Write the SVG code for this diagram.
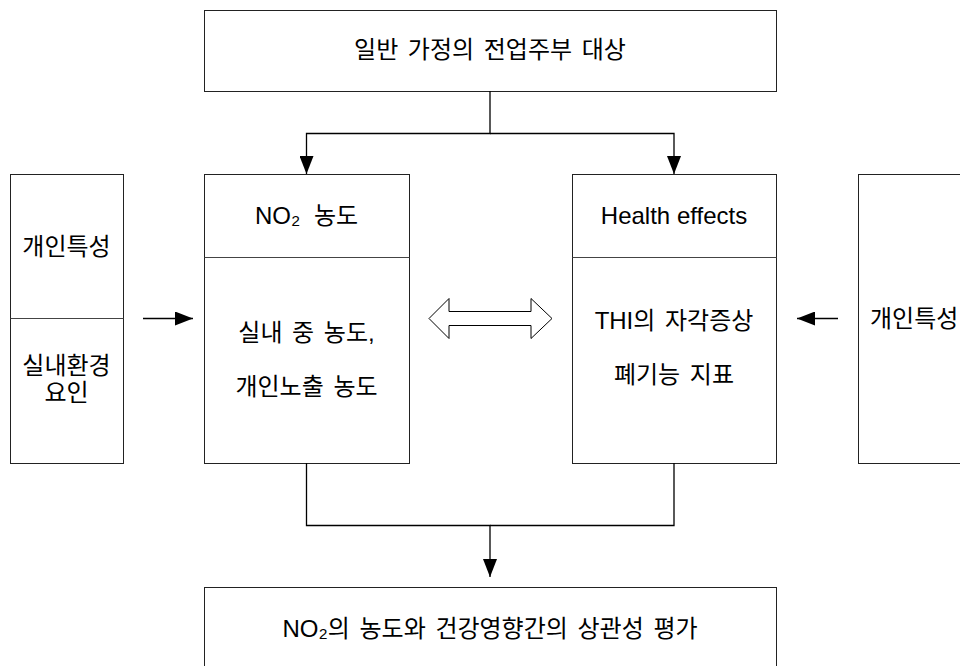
<svg xmlns="http://www.w3.org/2000/svg" width="960" height="666" viewBox="0 0 960 666">
<style>
  .box { fill: #ffffff; stroke: #222222; stroke-width: 1; }
  .div { stroke: #444444; stroke-width: 1; fill: none; }
  .t { font-family: "Liberation Sans", "Noto Sans CJK KR", sans-serif; font-size: 24px; fill: #000000; word-spacing: 3px; }
  .c { text-anchor: middle; }
  .ln { stroke: #000000; stroke-width: 1.3; fill: none; }
  .dbl { fill: #ffffff; stroke: #000000; stroke-width: 1; }
</style>
<defs>
  <marker id="ah" markerWidth="18" markerHeight="14" refX="18" refY="7" orient="auto" markerUnits="userSpaceOnUse">
    <path d="M0,0 L18,7 L0,14 Z" fill="#000000"/>
  </marker>
</defs>
<rect width="960" height="666" fill="#ffffff"/>

<g id="top">
  <rect class="box" x="204.5" y="10.5" width="572" height="81"/>
  <text class="t c" x="490" y="58">일반 가정의 전업주부 대상</text>
</g>

<g id="left">
  <rect class="box" x="10.5" y="174.5" width="113" height="289"/>
  <line class="div" x1="10.5" y1="318.5" x2="123.5" y2="318.5"/>
  <text class="t c" x="66.5" y="255">개인특성</text>
  <text class="t c" x="66.5" y="374">실내환경</text>
  <text class="t c" x="66.5" y="401">요인</text>
</g>

<g id="no2">
  <rect class="box" x="204.5" y="174.5" width="205" height="289"/>
  <line class="div" x1="204.5" y1="257.5" x2="409.5" y2="257.5"/>
  <text class="t c" x="306.5" y="224" style="word-spacing:7px">NO₂ 농도</text>
  <text class="t c" x="306.5" y="341">실내 중 농도,</text>
  <text class="t c" x="306.5" y="395">개인노출 농도</text>
</g>

<g id="health">
  <rect class="box" x="572.5" y="174.5" width="204" height="289"/>
  <line class="div" x1="572.5" y1="257.5" x2="776.5" y2="257.5"/>
  <text class="t c" x="674" y="224" style="word-spacing:0px">Health effects</text>
  <text class="t c" x="674" y="329">THI의 자각증상</text>
  <text class="t c" x="674" y="383">폐기능 지표</text>
</g>

<g id="right">
  <rect class="box" x="858.5" y="174.5" width="120" height="289"/>
  <text class="t" x="870" y="327">개인특성</text>
</g>

<g id="bottom">
  <rect class="box" x="204.5" y="587.5" width="572" height="100"/>
  <text class="t c" x="490" y="637">NO₂의 농도와 건강영향간의 상관성 평가</text>
</g>

<g id="connectors">
  <polyline class="ln" points="490,91 490,133.5 306.5,133.5 306.5,174" marker-end="url(#ah)"/>
  <polyline class="ln" points="490,133.5 674,133.5 674,174" marker-end="url(#ah)"/>
  <polyline class="ln" points="306.5,463 306.5,525.5 490,525.5 490,577" marker-end="url(#ah)"/>
  <polyline class="ln" points="674,463 674,525.5 490,525.5"/>
  <line class="ln" x1="143" y1="318.5" x2="193" y2="318.5" marker-end="url(#ah)"/>
  <line class="ln" x1="838" y1="318.5" x2="797" y2="318.5" marker-end="url(#ah)"/>
  <path class="dbl" d="M429,318.5 L449,298.5 L449,311.5 L531,311.5 L531,298.5 L552,318.5 L531,338.5 L531,325.5 L449,325.5 L449,338.5 Z"/>
</g>
</svg>
